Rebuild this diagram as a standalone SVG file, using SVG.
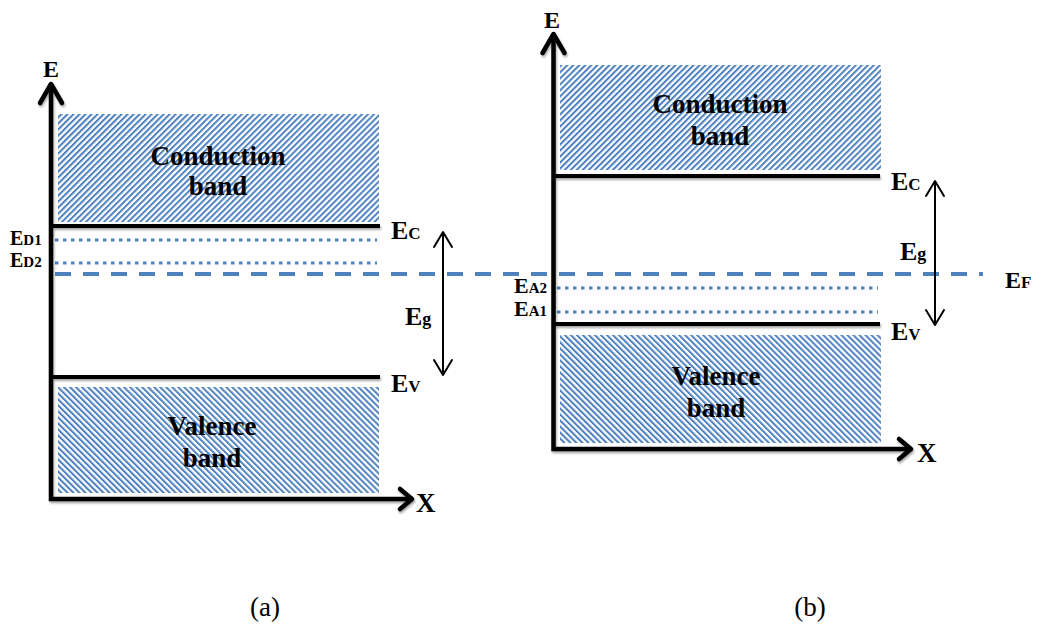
<svg xmlns="http://www.w3.org/2000/svg" width="1041" height="632" viewBox="0 0 1041 632">
  <defs>
    <pattern id="hatchUp" patternUnits="userSpaceOnUse" width="4.25" height="4.25" patternTransform="rotate(45)">
      <rect x="0" y="0" width="2" height="4.25" fill="#4f81bd"/>
    </pattern>
    <pattern id="hatchDown" patternUnits="userSpaceOnUse" width="4.25" height="4.25" patternTransform="rotate(-45)">
      <rect x="0" y="0" width="2" height="4.25" fill="#4f81bd"/>
    </pattern>
    <filter id="shadow" filterUnits="userSpaceOnUse" x="0" y="0" width="1041" height="632">
      <feDropShadow dx="1" dy="2" stdDeviation="1.2" flood-color="#000" flood-opacity="0.35"/>
    </filter>
  </defs>
  <style>
    .axis { fill: none; stroke: #000; stroke-width: 4.5; stroke-linecap: square; }
    .head { fill: none; stroke: #000; stroke-width: 4.5; stroke-linecap: round; stroke-linejoin: round; }
    .level { fill: none; stroke: #000; stroke-width: 4; }
    .dotted { fill: none; stroke: #4f81bd; stroke-width: 3.2; stroke-dasharray: 3.5 4.5; }
    .dashed { fill: none; stroke: #4f81bd; stroke-width: 4; stroke-dasharray: 16 12; }
    .eg { fill: none; stroke: #000; stroke-width: 2; stroke-linecap: round; stroke-linejoin: round; }
    .lbl { font-family: "Liberation Serif", "Times New Roman", serif; font-weight: bold; fill: #000; }
    .band { font-family: "Liberation Serif", "Times New Roman", serif; font-weight: bold; font-size: 27px; fill: #000; text-anchor: middle; }
    .cap { font-family: "Liberation Serif", "Times New Roman", serif; font-size: 27px; fill: #000; text-anchor: middle; }
  </style>

  <!-- Panel (a) -->
  <g id="a-conduction-band">
    <rect x="58" y="114" width="321" height="108" fill="url(#hatchUp)"/>
    <text class="band" x="218" y="165">Conduction</text>
    <text class="band" x="218" y="195">band</text>
  </g>
  <g id="a-valence-band">
    <rect x="58" y="387" width="321" height="106" fill="url(#hatchDown)"/>
    <text class="band" x="212" y="435">Valence</text>
    <text class="band" x="212" y="467">band</text>
  </g>
  <g id="a-levels">
    <g filter="url(#shadow)">
      <line class="level" x1="53" y1="226" x2="380" y2="226"/>
      <line class="level" x1="53" y1="377" x2="380" y2="377"/>
    </g>
    <line class="dotted" x1="55" y1="240" x2="377" y2="240"/>
    <line class="dotted" x1="55" y1="263" x2="377" y2="263"/>
  </g>
  <g id="a-labels">
    <text class="lbl" x="43" y="77" font-size="24">E</text>
    <text class="lbl" x="391" y="239" font-size="26">E<tspan font-size="17">C</tspan></text>
    <text class="lbl" x="391" y="392" font-size="26">E<tspan font-size="17">V</tspan></text>
    <text class="lbl" x="405" y="325" font-size="26">E<tspan font-size="18">g</tspan></text>
    <text class="lbl" x="10" y="245" font-size="20">E<tspan font-size="15">D1</tspan></text>
    <text class="lbl" x="10" y="267" font-size="20">E<tspan font-size="15">D2</tspan></text>
    <text class="lbl" x="416" y="512" font-size="27">X</text>
  </g>
  <g id="a-axes" filter="url(#shadow)">
    <path class="axis" d="M51,499 V86 M51,499 H410"/>
    <polyline class="head" points="40,103 51,84 62,103"/>
    <polyline class="head" points="400,489 412,499 400,509"/>
  </g>

  <!-- Panel (b) -->
  <g id="b-conduction-band">
    <rect x="560" y="65" width="321" height="105" fill="url(#hatchUp)"/>
    <text class="band" x="720" y="113">Conduction</text>
    <text class="band" x="720" y="145">band</text>
  </g>
  <g id="b-valence-band">
    <rect x="560" y="335" width="321" height="108" fill="url(#hatchDown)"/>
    <text class="band" x="716" y="385">Valence</text>
    <text class="band" x="716" y="417">band</text>
  </g>
  <g id="b-levels">
    <g filter="url(#shadow)">
      <line class="level" x1="555" y1="176" x2="880" y2="176"/>
      <line class="level" x1="555" y1="324" x2="880" y2="324"/>
    </g>
    <line class="dotted" x1="557" y1="288" x2="878" y2="288"/>
    <line class="dotted" x1="557" y1="312" x2="878" y2="312"/>
  </g>
  <g id="b-labels">
    <text class="lbl" x="544" y="28" font-size="24">E</text>
    <text class="lbl" x="891" y="190" font-size="26">E<tspan font-size="17">C</tspan></text>
    <text class="lbl" x="891" y="340" font-size="26">E<tspan font-size="17">V</tspan></text>
    <text class="lbl" x="900" y="260" font-size="26">E<tspan font-size="18">g</tspan></text>
    <text class="lbl" x="1005" y="288" font-size="24">E<tspan font-size="17">F</tspan></text>
    <text class="lbl" x="514" y="293" font-size="22">E<tspan font-size="15">A2</tspan></text>
    <text class="lbl" x="514" y="316" font-size="22">E<tspan font-size="15">A1</tspan></text>
    <text class="lbl" x="917" y="462" font-size="27">X</text>
  </g>
  <g id="b-axes" filter="url(#shadow)">
    <path class="axis" d="M553.5,449 V36 M553.5,449 H909"/>
    <polyline class="head" points="542.5,53 553.5,34 564.5,53"/>
    <polyline class="head" points="899,439 911,449 899,459"/>
  </g>

  <!-- Connectors: Fermi level and band-gap arrows -->
  <g id="connectors">
    <line class="dashed" x1="55" y1="274" x2="983" y2="274"/>
    <line class="eg" x1="443" y1="233" x2="443" y2="374"/>
    <polyline class="eg" points="434,247 443,232 452,247"/>
    <polyline class="eg" points="434,360 443,375 452,360"/>
    <line class="eg" x1="935" y1="182" x2="935" y2="324"/>
    <polyline class="eg" points="926,196 935,181 944,196"/>
    <polyline class="eg" points="926,310 935,325 944,310"/>
  </g>

  <g id="captions">
    <text class="cap" x="265" y="616">(a)</text>
    <text class="cap" x="810" y="616">(b)</text>
  </g>
</svg>
